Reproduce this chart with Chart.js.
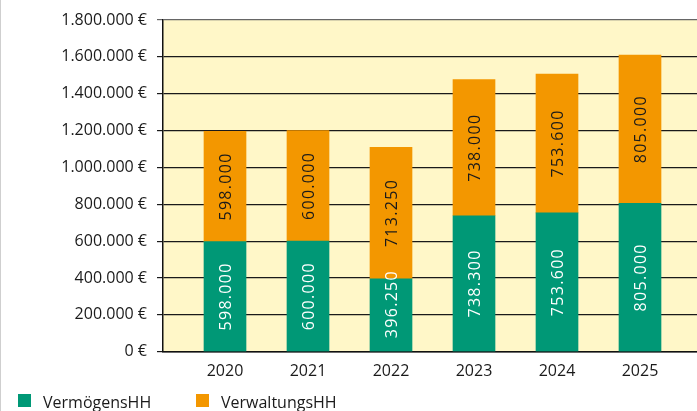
<!DOCTYPE html>
<html>
<head>
<meta charset="utf-8">
<script src="https://cdn.jsdelivr.net/npm/chart.js@4"></script>
<style>
    html, body { margin: 0; padding: 0; background: #fff; }
    #wrap { position: relative; width: 697px; height: 411px; }
    #edge { position: absolute; left: 0; top: 0; width: 1px; height: 411px; background: #cfcfcf; }
</style>
</head>
<body>
<div id="wrap">
    <canvas id="chart" width="697" height="411"></canvas>
    <div id="edge"></div>
</div>
<script>
// chart data
const years = [2020, 2021, 2022, 2023, 2024, 2025];
const vermoegensHH = [598000, 600000, 396250, 738300, 753600, 805000];
const verwaltungsHH = [598000, 600000, 713250, 738000, 753600, 805000];
const seriesNames = ["VermögensHH", "VerwaltungsHH"];
const yTicks = [0, 200000, 400000, 600000, 800000, 1000000, 1200000, 1400000, 1600000, 1800000];

const FONT = "'Open Sans', 'Noto Sans', sans-serif";
const GREEN = "#009876";
const ORANGE = "#F39700";

function fmt(v) {
    return String(v).replace(/\B(?=(\d{3})+(?!\d))/g, ".");
}

// =======================================================
// PLUGINS: plot background, bar labels, legend
// =======================================================
const plotBg = {
    id: "plotBg",
    beforeDraw(chart) {
        const { ctx, chartArea: a } = chart;
        ctx.save();
        ctx.fillStyle = "#FFF7C8";
        ctx.fillRect(a.left, a.top, a.right - a.left, a.bottom - a.top);
        ctx.restore();
    }
};

const barLabels = {
    id: "barLabels",
    afterDatasetsDraw(chart) {
        const ctx = chart.ctx;
        chart.data.datasets.forEach((ds, di) => {
            const meta = chart.getDatasetMeta(di);
            meta.data.forEach((bar, i) => {
                const p = bar.getProps(["x", "y", "base"], true);
                const txt = fmt(ds.data[i]);
                ctx.save();
                ctx.font = "16px " + FONT;
                ctx.letterSpacing = "1.3px";
                const half = ctx.measureText(txt).width / 2;
                // keep some room above the bar base, like the original
                const cy = Math.min((p.y + p.base) / 2, p.base - 13 - half);
                ctx.translate(p.x, cy);
                ctx.rotate(-Math.PI / 2);
                ctx.fillStyle = di === 0 ? "#ffffff" : "#1a1a1a";
                ctx.textAlign = "center";
                ctx.textBaseline = "middle";
                ctx.fillText(txt, 0, 1);
                ctx.restore();
            });
        });
    }
};

const bottomLegend = {
    id: "bottomLegend",
    afterDraw(chart) {
        const ctx = chart.ctx;
        const xs = [18, 196];
        ctx.save();
        ctx.font = "16px " + FONT;
        ctx.textBaseline = "alphabetic";
        chart.data.datasets.forEach((ds, i) => {
            ctx.fillStyle = ds.backgroundColor;
            ctx.fillRect(xs[i], 394, 13, 13);
            ctx.fillStyle = "#1a1a1a";
            ctx.fillText(ds.label, xs[i] + 25, 408);
        });
        ctx.restore();
    }
};

// =======================================================
// CHART
// =======================================================
new Chart(document.getElementById("chart"), {
    type: "bar",
    data: {
        labels: years,
        datasets: [
            { label: seriesNames[0], data: vermoegensHH, backgroundColor: GREEN, barThickness: 42 },
            { label: seriesNames[1], data: verwaltungsHH, backgroundColor: ORANGE, barThickness: 42 }
        ]
    },
    options: {
        responsive: false,
        animation: false,
        layout: { padding: { top: 20, right: 0, bottom: 20, left: 0 } },
        plugins: {
            legend: { display: false },
            tooltip: { enabled: false }
        },
        scales: {
            x: {
                type: "linear",
                stacked: true,
                offset: false,
                min: 2020 - 62 / 83,
                max: 2020 - 62 / 83 + 534 / 83,
                afterBuildTicks: s => { s.ticks = years.map(v => ({ value: v })); },
                grid: { display: false, drawTicks: false, offset: false },
                border: { display: true, color: "#111", width: 1.5 },
                ticks: {
                    padding: 10,
                    color: "#1a1a1a",
                    font: { family: FONT, size: 16 },
                    callback: v => String(v)
                }
            },
            y: {
                stacked: true,
                min: 0,
                max: 1800000,
                afterBuildTicks: s => { s.ticks = yTicks.map(v => ({ value: v })); },
                afterFit: s => { s.width = 163; },
                grid: {
                    color: c => (c.tick && c.tick.value === 1800000 ? "#666" : "#1a1a1a"),
                    tickLength: 6,
                    lineWidth: 1.2
                },
                border: { display: true, color: "#111", width: 1.5 },
                ticks: {
                    padding: 10,
                    color: "#1a1a1a",
                    font: { family: FONT, size: 16 },
                    callback: v => fmt(v) + " €"
                }
            }
        }
    },
    plugins: [plotBg, barLabels, bottomLegend]
});
</script>
</body>
</html>
